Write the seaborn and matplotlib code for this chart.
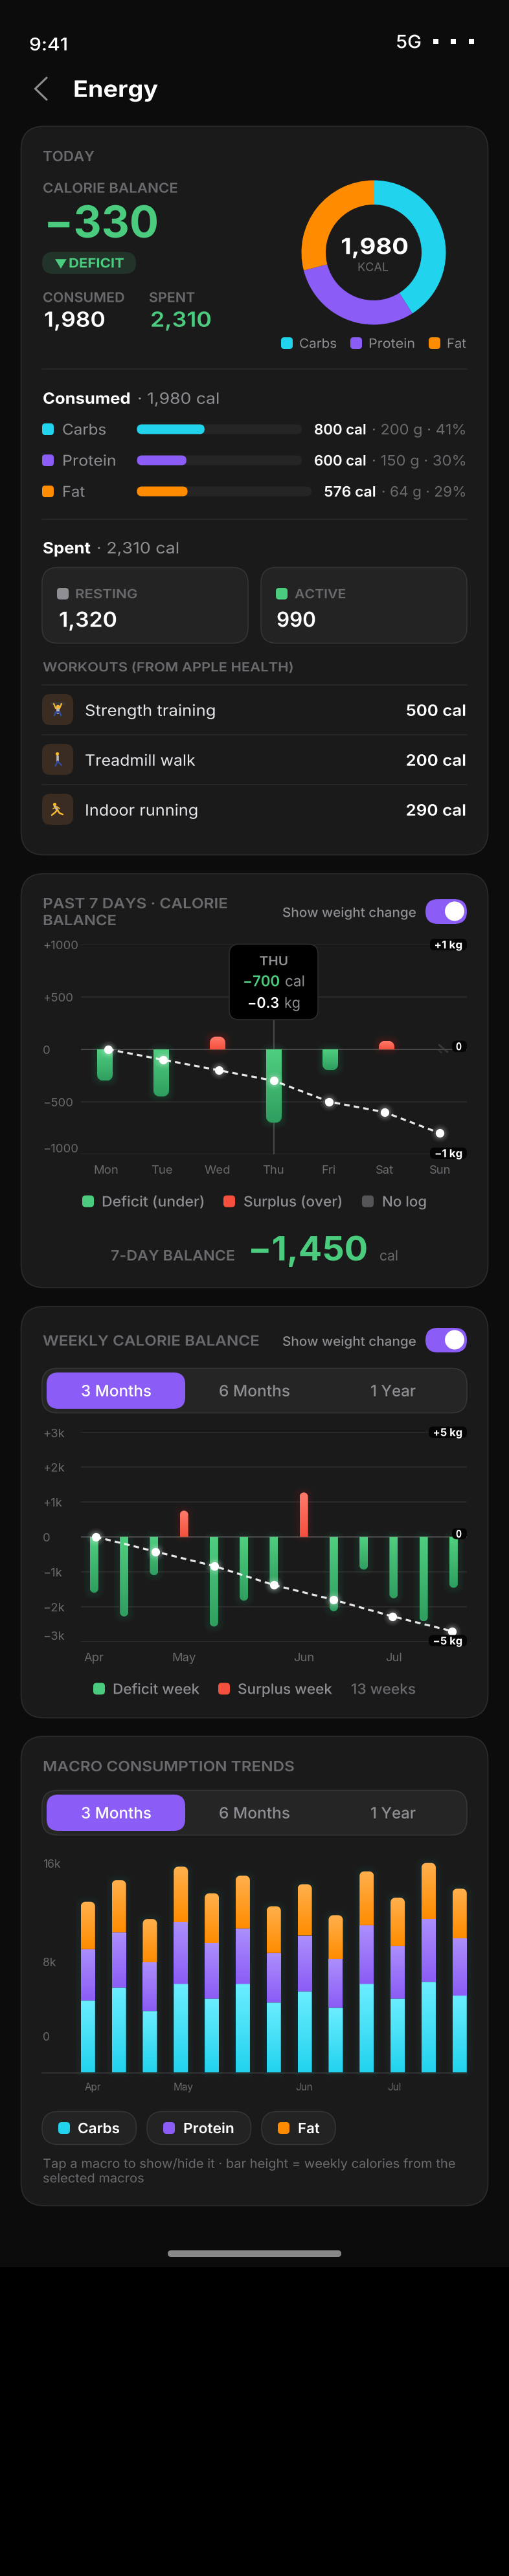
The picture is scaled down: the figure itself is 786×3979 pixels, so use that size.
import numpy as np
import pandas as pd
import matplotlib
matplotlib.use('Agg')
import matplotlib.pyplot as plt
import seaborn as sns
from matplotlib.colors import to_rgb
from matplotlib.patches import FancyBboxPatch, Ellipse, PathPatch
from matplotlib.path import Path
from matplotlib.patheffects import AbstractPathEffect
from matplotlib.transforms import Affine2D

W, H = 786, 3980

MACROS = ['Carbs', 'Protein', 'Fat']
MACRO_PCT = [41, 30, 29]
MACRO_CAL = ['800 cal', '600 cal', '576 cal']
MACRO_REST = ['· 200 g · 41%', '· 150 g · 30%', '· 64 g · 29%']

DAYS = ['Mon', 'Tue', 'Wed', 'Thu', 'Fri', 'Sat', 'Sun']
DAY_BALANCE = [-300, -450, 120, -700, -200, 80, np.nan]
DAY_WEIGHT = [0, -0.1, -0.2, -0.3, -0.5, -0.6, -0.8]

WEEKS = ['W%d' % i for i in range(1, 14)]
WEEK_BALANCE = [-1600, -2280, -1100, 750, -2570, -1830, -1450, 1270, -2130, -940, -1760, -2420, -1460]
WEEK_WEIGHT = [0, -0.7, -1.4, -2.3, -3.0, -3.8, -4.5]

WEEK_CARBS = [5480, 6460, 4690, 6750, 5620, 6750, 5330, 6170, 4930, 6750, 5620, 6910, 5860]
WEEK_PROTEIN = [3920, 4230, 3710, 4710, 4260, 4230, 3780, 4280, 3710, 4470, 4020, 4780, 4350]
WEEK_FAT = [3610, 3970, 3300, 4230, 3780, 4020, 3560, 3900, 3350, 4110, 3680, 4280, 3800]

MONTHS = ['Apr', 'May', 'Jun', 'Jul']

WORKOUTS = ['Strength training', 'Treadmill walk', 'Indoor running']
WORKOUT_CAL = ['500 cal', '200 cal', '290 cal']

BG = '#0c0c0c'
CARD = '#1a1a1a'
EDGE = '#2c2c2e'
GRID = '#2a2a2a'
LABEL = '#6a6a6e'
MID = '#8e8e93'
GREEN = '#4acb7e'
RED = '#f5503d'
PURPLE = '#8b5cf6'
CYAN = '#22d3ee'
ORANGE = '#ff8c00'

sns.set_theme(style='dark', rc={'axes.facecolor': 'none', 'figure.facecolor': '#000000'})
plt.rcParams['font.family'] = ['Inter', 'DejaVu Sans']

fig = plt.figure(figsize=(W / 100, H / 100), dpi=100)
renderer = fig.canvas.get_renderer()


class StretchX(AbstractPathEffect):
    # no letter-spacing in matplotlib, widen the glyphs a bit instead
    def __init__(self, sx):
        super().__init__()
        self.sx = sx

    def draw_path(self, renderer, gc, tpath, affine, rgbFace=None):
        renderer.draw_path(gc, tpath, Affine2D().scale(self.sx, 1) + affine, rgbFace)


def px_axes(z):
    ax = fig.add_axes([0, 0, 1, 1], zorder=z)
    ax.set_xlim(0, W)
    ax.set_ylim(H, 0)
    ax.autoscale(False)
    ax.axis('off')
    return ax


def chart_axes(left, top, right, bottom, z):
    ax = fig.add_axes([left / W, 1 - bottom / H, (right - left) / W, (bottom - top) / H], zorder=z)
    ax.patch.set_visible(False)
    sns.despine(ax=ax, left=True, bottom=True)
    return ax


def box(ax, x0, y0, x1, y1, r, color, edge='none', lw=0, alpha=None, z=1):
    p = FancyBboxPatch((x0, y0), x1 - x0, y1 - y0, boxstyle='round,pad=0,rounding_size=%g' % r,
                       fc=color, ec=edge, lw=lw, alpha=alpha, zorder=z)
    ax.add_patch(p)
    return p


def txt(ax, x, yc, s, px, color='white', weight='normal', x1=None, ha='left', z=5):
    # yc is the middle of the capitals, x1 the right end seen in the reference
    t = ax.text(x, yc + 0.364 * px, s, fontsize=px * 0.72, color=color, fontweight=weight,
                ha=ha, va='baseline', zorder=z)
    if x1 is not None:
        w = t.get_window_extent(renderer=renderer).width
        t.set_path_effects([StretchX((x1 - x) / w)])
    return t


def glow(ax, x0, y0, x1, y1, r, color, spread, alpha):
    for k in range(spread, 0, -1):
        p = FancyBboxPatch((x0, y0), x1 - x0, y1 - y0, boxstyle='round,pad=%g,rounding_size=%g' % (k, r + k),
                           fc=color, ec='none', lw=0, alpha=alpha, zorder=1)
        ax.add_patch(p)


def rounded_path(x0, y0, x1, y1, rt, rb):
    t = np.linspace(0, np.pi / 2, 8)
    pts = []
    pts += [(x0 + rt - rt * np.cos(a), y0 + rt - rt * np.sin(a)) for a in t]
    pts += [(x1 - rt + rt * np.sin(a), y0 + rt - rt * np.cos(a)) for a in t]
    pts += [(x1 - rb + rb * np.cos(a), y1 - rb + rb * np.sin(a)) for a in t]
    pts += [(x0 + rb - rb * np.sin(a), y1 - rb + rb * np.cos(a)) for a in t]
    pts.append(pts[0])
    return Path(pts)


def grad(ax, x0, y0, x1, y1, top, bot, rt=0, rb=0, z=2):
    c = np.linspace(to_rgb(top), to_rgb(bot), 64).reshape(64, 1, 3)
    im = ax.imshow(c, extent=(x0, x1, y1, y0), aspect='auto', interpolation='bilinear', zorder=z)
    clip = PathPatch(rounded_path(x0, y0, x1, y1, rt, rb), transform=ax.transData, fc='none', ec='none')
    ax.add_patch(clip)
    im.set_clip_path(clip)


def bar_px(ax, p):
    a = ax.transData.transform([(p.get_x(), p.get_y()), (p.get_x() + p.get_width(), p.get_y() + p.get_height())])
    return a[0, 0], a[1, 0], H - a[:, 1].max(), H - a[:, 1].min()


def toggle(ax, y0, y1):
    box(ax, 657, y0, 721, y1, (y1 - y0) / 2, PURPLE)
    ax.add_patch(Ellipse((702, (y0 + y1) / 2 - 0.5), 30, 30, fc='white', ec='none', zorder=3))


def segmented(ax, y0, y1, py0, py1):
    box(ax, 65, y0, 721, y1, 24, '#252525', '#363638', 1.2)
    box(ax, 72, py0, 286, py1, 18, PURPLE, z=2)
    yc = (y0 + y1) / 2
    txt(ax, 125, yc, '3 Months', 24, 'white', 'medium', 234)
    txt(ax, 338, yc, '6 Months', 24, MID, 'medium', 448)
    txt(ax, 572, yc, '1 Year', 24, MID, 'medium', 642)


def badge(ax, x0, y0, y1, s, tx0, tx1=714):
    box(ax, x0, y0, 721, y1, 7, '#050505', z=3)
    txt(ax, tx0, (y0 + y1) / 2, s, 16.5, 'white', 'bold', tx1)


def style_chart(ax, left_px, ticks, labels, px, pad_x):
    ax.set_yticks(ticks, labels)
    ax.tick_params(axis='y', length=0, pad=(left_px - 66) * 0.72, labelsize=px * 0.72, labelcolor=LABEL)
    ax.tick_params(axis='x', length=0, pad=pad_x * 0.72, labelsize=px * 0.72, labelcolor=LABEL)
    ax.grid(axis='y', color=GRID, lw=1.5)
    ax.grid(axis='x', visible=False)
    ax.set(xlabel='', ylabel='')
    for t in ax.get_yticklabels():
        t.set_ha('left')
    ax.get_yticklabels()[-1].set_va('bottom')
    ax.axhline(0, color='#48484a', lw=1.5, zorder=1)


def weight_line(ax, xs, ys):
    sns.lineplot(x=xs, y=ys, ax=ax, color='white', lw=2.3, alpha=0.9, linestyle=(0, (2.7, 2)), errorbar=None, zorder=3)
    for s, a in [(420, 0.04), (300, 0.06), (190, 0.1)]:
        sns.scatterplot(x=xs, y=ys, ax=ax, s=s, color='white', alpha=a, linewidth=0, zorder=4)
    sns.scatterplot(x=xs, y=ys, ax=ax, s=92, color='white', linewidth=0, zorder=5)
    ax.axis('off')


bg = px_axes(0)
bg.add_patch(plt.Rectangle((0, 0), W, 3502.5, fc=BG, ec='none', zorder=0))
ov = px_axes(2)
top = px_axes(5)

for y0, y1 in [(196, 1321.5), (1350.5, 1990), (2019, 2654.5), (2683, 3408)]:
    box(bg, 32.5, y0, 753.5, y1, 36, CARD, EDGE, 1.2)

# status bar, header
txt(bg, 45, 69, '9:41', 27, 'white', 'medium', 105)
txt(bg, 611, 65, '5G', 28, 'white', 'medium', 651)
for x in [673, 700, 728]:
    bg.add_patch(plt.Rectangle((x - 4, 61), 8, 8, fc='white', ec='none', zorder=3))
bg.plot([72, 54.5, 72], [121, 138, 155], color=MID, lw=2.2, solid_capstyle='round', solid_joinstyle='miter', zorder=3)
txt(bg, 113, 138, 'Energy', 35, 'white', 'bold', 244)

# today card
txt(bg, 66, 242, 'TODAY', 22, LABEL, 'semibold', 146)
txt(bg, 66, 291, 'CALORIE BALANCE', 21, LABEL, 'semibold', 274)
txt(bg, 68, 343, '−330', 68, GREEN, 'bold', 245)
box(bg, 65, 390, 210, 424, 17, '#22332a')
txt(bg, 84, 407, '▼', 19, GREEN, 'bold')
txt(bg, 106, 407, 'DEFICIT', 20, GREEN, 'bold', 192)
txt(bg, 66, 460, 'CONSUMED', 21, LABEL, 'semibold', 192)
txt(bg, 230, 460, 'SPENT', 21, LABEL, 'semibold', 301)
txt(bg, 68, 494, '1,980', 32, 'white', 'semibold', 163)
txt(bg, 232, 494, '2,310', 32, GREEN, 'semibold', 327)

donut = fig.add_axes([465.5 / W, 1 - 502.5 / H, 223 / W, 223 / H], zorder=1)
donut.pie(MACRO_PCT, colors=[CYAN, PURPLE, ORANGE], startangle=90, counterclock=False, radius=1,
          wedgeprops={'width': 37.5 / 111.5, 'lw': 0})
donut.set_xlim(-1, 1)
donut.set_ylim(-1, 1)
txt(top, 526.3, 381, '1,980', 34, 'white', 'bold', 630.5)
txt(top, 552, 413, 'KCAL', 18, LABEL, 'normal', 600)

for x, c, s, tx, tx1 in [(434, CYAN, 'Carbs', 462, 520), (541, PURPLE, 'Protein', 569, 641), (662, ORANGE, 'Fat', 690, 720)]:
    box(bg, x, 522, x + 18, 540, 5, c)
    txt(bg, tx, 531, s, 20, MID, 'normal', tx1)
bg.plot([65, 721], [571, 571], color=EDGE, lw=1.1, zorder=1)

# consumed
txt(bg, 66, 616, 'Consumed', 24, 'white', 'bold', 202)
txt(bg, 212, 616, '· 1,980 cal', 24, MID, 'normal', 339)
rows = [(664, 466, 485, 566, 574, 164), (712, 466, 485, 566, 574, 179.5), (760, 481, 500, 581, 589, 131)]
for i, (yc, tr, cx, cx1, rx, nx1) in enumerate(rows):
    c = [CYAN, PURPLE, ORANGE][i]
    box(bg, 65, yc - 9, 83, yc + 9, 5, c)
    txt(bg, 96, yc, MACROS[i], 23, MID, 'normal', nx1)
    box(bg, 211.5, yc - 7.5, tr, yc + 7.5, 7.5, '#252525')
    a = chart_axes(211.5, yc - 7.5, tr, yc + 7.5, 1)
    sns.barplot(x=[MACRO_PCT[i]], y=[MACROS[i]], ax=a, color=c, width=1, errorbar=None)
    a.set_xlim(0, 100)
    a.axis('off')
    for p in a.patches:
        x0, x1, y0, y1 = bar_px(a, p)
        p.set_visible(False)
        box(ov, x0, y0, x1, y1, 7.5, c)
    txt(bg, cx, yc, MACRO_CAL[i], 22, 'white', 'semibold', cx1)
    txt(bg, rx, yc, MACRO_REST[i], 22, LABEL, 'normal', 720)
bg.plot([65, 721], [802.5, 802.5], color=EDGE, lw=1.1, zorder=1)

# spent
txt(bg, 66, 847, 'Spent', 24, 'white', 'bold', 140)
txt(bg, 149, 847, '· 2,310 cal', 24, MID, 'normal', 277)
for x0, x1, c, s, tx, tx1, v, vx, vx1 in [(65, 383, MID, 'RESTING', 116, 212, '1,320', 91, 181),
                                          (403, 721, GREEN, 'ACTIVE', 455, 534, '990', 427, 488)]:
    box(bg, x0, 877.5, x1, 994.5, 24, '#232323', '#343436', 1.2)
    box(bg, x0 + 23, 909, x0 + 41, 927, 5, c, z=2)
    txt(bg, tx, 918, s, 19.5, LABEL, 'semibold', tx1)
    txt(bg, vx, 957.5, v, 32, 'white', 'semibold', vx1)
txt(bg, 66, 1031, 'WORKOUTS (FROM APPLE HEALTH)', 19.5, LABEL, 'semibold', 452)

for y in [1058.5, 1135.5, 1212.5]:
    bg.plot([65, 721], [y, y], color=EDGE, lw=1.1, zorder=1)
for i, (yc, nx1) in enumerate([(1097, 334), (1174, 302), (1251, 307)]):
    box(bg, 65, yc - 24, 113, yc + 24, 13, '#3a2c20')
    txt(bg, 131, yc + 1, WORKOUTS[i], 24, '#e5e5ea', 'normal', nx1)
    txt(bg, 626.5, yc + 1, WORKOUT_CAL[i], 24, 'white', 'semibold', 720)

# little figures for the workout icons
SKIN, SHIRT, PANTS = '#f5b82e', '#b8b8bc', '#2f4a9e'
bg.plot([80, 98], [1088, 1088], color='#3a3a3c', lw=3.2, zorder=3)
bg.plot([83, 86, 89, 92, 95], [1088, 1095, 1095, 1095, 1088], color=SKIN, lw=1.6, zorder=3)
bg.plot([89, 89], [1095, 1101], color=SHIRT, lw=3.5, zorder=3)
bg.plot([84, 86, 89, 92, 94], [1106, 1101, 1101, 1101, 1106], color=PANTS, lw=2, zorder=3)
bg.scatter([89.3], [1091.5], s=16, color=SKIN, lw=0, zorder=4)
bg.plot([89, 89], [1169, 1177], color=SHIRT, lw=2.6, zorder=3)
bg.plot([85.5, 89, 95], [1184, 1177, 1183], color=PANTS, lw=1.8, zorder=3)
bg.scatter([88.3], [1165], s=14, color=SKIN, lw=0, zorder=4)
bg.plot([84.5, 88.5], [1246, 1252], color=SHIRT, lw=2.8, zorder=3)
bg.plot([80, 85, 88.5, 92, 97], [1260, 1256, 1252, 1257, 1259], color=SKIN, lw=1.8, zorder=3)
bg.plot([82, 88, 92], [1250, 1247, 1250], color=SKIN, lw=1.2, zorder=3)
bg.scatter([84.3], [1242.5], s=14, color=SKIN, lw=0, zorder=4)

# past 7 days
txt(bg, 66, 1396, 'PAST 7 DAYS · CALORIE', 22, LABEL, 'semibold', 352)
txt(bg, 66, 1422, 'BALANCE', 22, LABEL, 'semibold', 180)
txt(bg, 436, 1410, 'Show weight change', 20, MID, 'medium', 643)
toggle(bg, 1390, 1428)

days = pd.DataFrame({'day': DAYS, 'balance': DAY_BALANCE})
ax = chart_axes(125, 1460, 721, 1783.6, 1)
sns.barplot(data=days, x='day', y='balance', order=DAYS, width=24 / 87, color=GREEN, errorbar=None, ax=ax)
ax.set_xlim(-37 / 87, 559 / 87)
ax.set_ylim(-1000, 1000)
style_chart(ax, 125, [1000, 500, 0, -500, -1000], ['+1000', '+500', '0', '−500', '−1000'], 18.5, 16)
ax.set_xticks(np.arange(7) * 86 / 87 + 2 / 87, DAYS)
ax.axvline(3, ymin=0, ymax=0.7, color='#48484a', lw=1.5, zorder=1)
for p in ax.patches:
    x0, x1, y0, y1 = bar_px(ax, p)
    p.set_visible(False)
    if not np.isfinite(y0 + y1) or y1 - y0 < 1:
        continue
    if p.get_height() < 0:
        glow(ov, x0, y0, x1, y1, 8, GREEN, 10, 0.014)
        grad(ov, x0, y0, x1, y1, '#50cf80', '#2f9e5f', 0, 9)
    else:
        glow(ov, x0, y0, x1, y1, 8, RED, 10, 0.014)
        grad(ov, x0, y0, x1, y1, '#ff7b6b', RED, 9, 0)
bg.plot([678, 691], [1615, 1626], color='#3a3a3c', lw=2, zorder=2)
bg.plot([676, 682], [1622, 1627], color='#333335', lw=1.6, zorder=2)

ax2 = chart_axes(125, 1460, 721, 1783.6, 3)
weight_line(ax2, np.arange(7), DAY_WEIGHT)
ax2.set_xlim(-42 / 85.33, 554 / 85.33)
ax2.set_ylim(-1, 1)

badge(top, 664, 1451, 1469, '+1 kg', 670.5)
badge(top, 698, 1608.5, 1626, '0', 704, 713)
badge(top, 664, 1773.5, 1791, '−1 kg', 671)
box(top, 354, 1459.5, 491, 1576, 15, '#000000', '#2c2c2e', 1.2)
txt(top, 400.5, 1485, 'THU', 19, MID, 'semibold', 445)
txt(top, 375, 1516, '−700', 23, GREEN, 'semibold', 432)
txt(top, 440, 1516, 'cal', 23, MID, 'normal', 471)
txt(top, 382, 1549.5, '−0.3', 23, 'white', 'semibold', 431)
txt(top, 439, 1549.5, 'kg', 23, MID, 'normal', 464)

for x, c, s, tx, tx1 in [(127, GREEN, 'Deficit (under)', 157, 316), (345, RED, 'Surplus (over)', 376, 529), (559, '#555557', 'No log', 590, 659)]:
    box(bg, x, 1847.5, x + 18, 1865.5, 5, c)
    txt(bg, tx, 1856.5, s, 22, MID, 'medium', tx1)
txt(bg, 171, 1940, '7-DAY BALANCE', 22, LABEL, 'semibold', 363)
txt(bg, 383, 1929, '−1,450', 52, GREEN, 'bold', 568)
txt(bg, 586, 1940, 'cal', 22, LABEL, 'normal', 615)

# weekly balance
txt(bg, 66, 2071.5, 'WEEKLY CALORIE BALANCE', 22, LABEL, 'semibold', 401)
txt(bg, 436, 2072.5, 'Show weight change', 20, MID, 'medium', 643)
toggle(bg, 2052, 2090)
segmented(bg, 2114.5, 2183.5, 2121, 2177)

weeks = pd.DataFrame({'week': WEEKS, 'balance': WEEK_BALANCE})
ax = chart_axes(125, 2213, 721, 2536.7, 1)
sns.barplot(data=weeks, x='week', y='balance', order=WEEKS, width=13 / 46.25, color=GREEN, errorbar=None, ax=ax)
ax.set_xlim(-20.4 / 46.25, 575.6 / 46.25)
ax.set_ylim(-3000, 3000)
style_chart(ax, 125, [3000, 2000, 1000, 0, -1000, -2000, -3000], ['+3k', '+2k', '+1k', '0', '−1k', '−2k', '−3k'], 18.5, 16)
ax.set_xticks([0, 3, 7, 10], MONTHS)
for p in ax.patches:
    x0, x1, y0, y1 = bar_px(ax, p)
    p.set_visible(False)
    if p.get_height() < 0:
        glow(ov, x0, y0, x1, y1, 6, GREEN, 10, 0.011)
        grad(ov, x0, y0, x1, y1, '#50cf80', '#2f9e5f', 0, 6.5)
    else:
        glow(ov, x0, y0, x1, y1, 6, RED, 10, 0.011)
        grad(ov, x0, y0, x1, y1, '#ff7b6b', RED, 6.5, 0)

ax2 = chart_axes(125, 2213, 721, 2536.7, 3)
weight_line(ax2, np.arange(7), WEEK_WEIGHT)
ax2.set_xlim(-23 / 91.67, 573 / 91.67)
ax2.set_ylim(-5, 5)

badge(top, 662, 2204.5, 2222, '+5 kg', 668.5)
badge(top, 698, 2361.5, 2378.5, '0', 704, 713)
badge(top, 662, 2526.5, 2544, '−5 kg', 668.5)

for x, c, s, tx, tx1 in [(144, GREEN, 'Deficit week', 174, 308), (337, RED, 'Surplus week', 367, 513)]:
    box(bg, x, 2600.5, x + 18, 2618.5, 5, c)
    txt(bg, tx, 2609.5, s, 22, MID, 'medium', tx1)
txt(bg, 542, 2609.5, '13 weeks', 22, LABEL, 'medium', 642)

# macro trends
txt(bg, 66, 2729, 'MACRO CONSUMPTION TRENDS', 22, LABEL, 'semibold', 455)
segmented(bg, 2766.5, 2835.5, 2773, 2829)

carbs = np.array(WEEK_CARBS)
protein = np.array(WEEK_PROTEIN)
fat = np.array(WEEK_FAT)
ax = chart_axes(125, 2878, 721, 3202.4, 1)
sns.barplot(x=WEEKS, y=carbs + protein + fat, order=WEEKS, width=22 / 47.83, color=ORANGE, errorbar=None, ax=ax)
sns.barplot(x=WEEKS, y=carbs + protein, order=WEEKS, width=22 / 47.83, color=PURPLE, errorbar=None, ax=ax)
sns.barplot(x=WEEKS, y=carbs, order=WEEKS, width=22 / 47.83, color=CYAN, errorbar=None, ax=ax)
ax.set_xlim(-10.8 / 47.83, 585.2 / 47.83)
ax.set_ylim(0, 16000)
ax.set_yticks([])
ax.tick_params(axis='x', length=0, pad=10.5, labelsize=11, labelcolor=LABEL)
ax.set(xlabel='', ylabel='')
ax.grid(False)
ax.set_xticks([0.15, 3.08, 6.98, 9.9], MONTHS)
bars = [p for p in ax.patches]
n = len(WEEKS)
for i in range(n):
    x0, x1, tf, base = bar_px(ax, bars[i])
    _, _, tp, _ = bar_px(ax, bars[n + i])
    _, _, tc, _ = bar_px(ax, bars[2 * n + i])
    glow(ov, x0, tf, x1, base, 6, '#2fd0d8', 10, 0.007)
    grad(ov, x0, tf, x1, tp, '#ffb04d', ORANGE, 7, 0)
    grad(ov, x0, tp, x1, tc, '#ac8ffc', PURPLE)
    grad(ov, x0, tc, x1, base, '#6bedff', CYAN, 0, 1.5)
for p in bars:
    p.set_visible(False)
bg.plot([65, 721], [3203, 3203], color='#333335', lw=1.3, zorder=1)
for y, s in [(2878.5, '16k'), (3031, '8k'), (3146, '0')]:
    txt(bg, 66, y, s, 17.5, LABEL, 'normal')

for x0, x1, sw, c, s, tx, tx1 in [(65, 210.5, 90, CYAN, 'Carbs', 120, 185), (227, 387.5, 252, PURPLE, 'Protein', 283, 362), (404, 518, 429, ORANGE, 'Fat', 460, 494)]:
    box(bg, x0, 3262.5, x1, 3313.5, 25, '#232323', '#343436', 1.2)
    box(bg, sw, 3279, sw + 18, 3297, 5, c, z=2)
    txt(bg, tx, 3288, s, 22, 'white', 'semibold', tx1)
txt(bg, 66, 3342.5, 'Tap a macro to show/hide it · bar height = weekly calories from the', 19.5, LABEL, 'normal', 704)
txt(bg, 66, 3365, 'selected macros', 19.5, LABEL, 'normal', 223)

box(bg, 259, 3477, 527, 3487, 5, '#888888')

fig.savefig('out.png', dpi=100, facecolor='#000000')
